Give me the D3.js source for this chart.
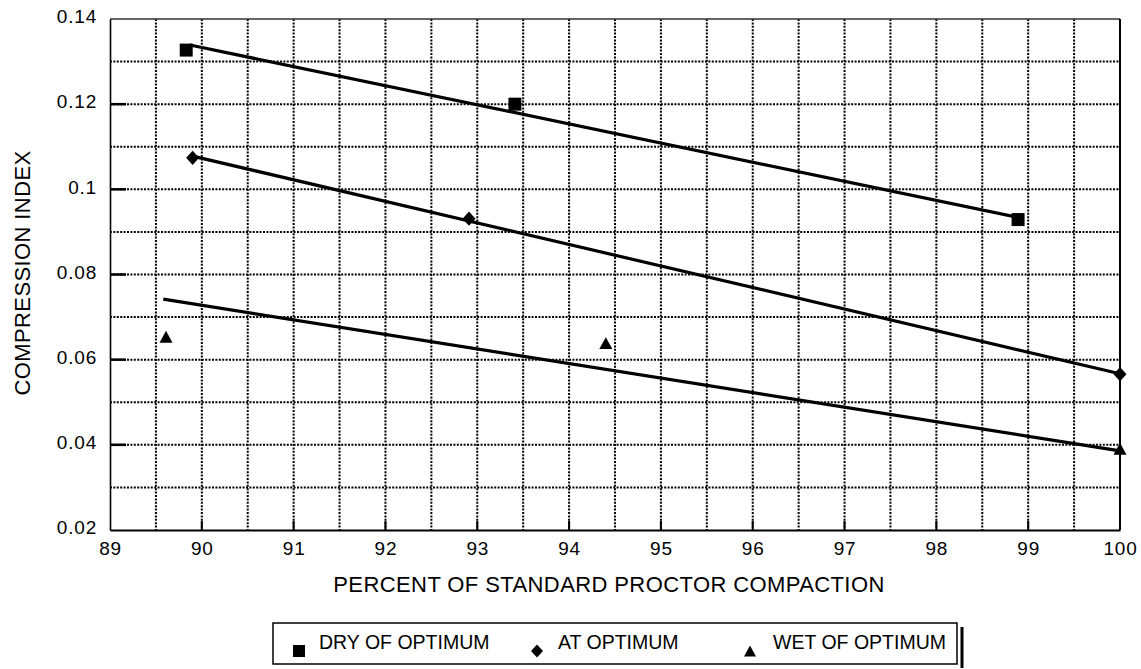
<!DOCTYPE html>
<html>
<head>
<meta charset="utf-8">
<script src="https://cdn.jsdelivr.net/npm/d3@7/dist/d3.min.js"></script>
<style>
  html, body { margin: 0; padding: 0; background: #fff; }
  svg { display: block; font-family: "Liberation Sans", Arial, Helvetica, sans-serif; }
</style>
</head>
<body>
<svg id="chart" width="1141" height="669"></svg>
<script>
// ---- data ----
const xTicks = [89, 90, 91, 92, 93, 94, 95, 96, 97, 98, 99, 100];
const yTicks = [0.02, 0.04, 0.06, 0.08, 0.10, 0.12, 0.14];
const yTickLabels = ["0.02", "0.04", "0.06", "0.08", "0.1", "0.12", "0.14"];
const xGrid = [89.5, 90, 90.5, 91, 91.5, 92, 92.5, 93, 93.5, 94, 94.5, 95, 95.5, 96, 96.5, 97, 97.5, 98, 98.5, 99, 99.5];
const yGrid = [0.03, 0.04, 0.05, 0.06, 0.07, 0.08, 0.09, 0.10, 0.11, 0.12, 0.13];

const seriesNames = ["DRY OF OPTIMUM", "AT OPTIMUM", "WET OF OPTIMUM"];
const seriesShapes = ["square", "diamond", "triangle"];

const dryX = [89.83, 93.41, 98.89];
const dryY = [0.1327, 0.1200, 0.0929];
const atX  = [89.90, 92.91, 100.0];
const atY  = [0.1074, 0.0931, 0.0566];
const wetX = [89.61, 94.40, 100.0];
const wetY = [0.0651, 0.0636, 0.0388];

// trend lines (start / end)
const dryFitX = [89.87, 98.89];
const dryFitY = [0.1339, 0.0934];
const atFitX  = [89.90, 100.0];
const atFitY  = [0.1078, 0.0567];
const wetFitX = [89.58, 100.0];
const wetFitY = [0.0742, 0.0386];

const xTitle = "PERCENT OF STANDARD PROCTOR COMPACTION";
const yTitle = "COMPRESSION INDEX";

// ---- layout ----
const svg = d3.select("#chart");
const L = 110, R = 1120, T = 19, B = 530;
const x = d3.scaleLinear().domain([89, 100]).range([L, R]);
const y = d3.scaleLinear().domain([0.02, 0.14]).range([B, T]);

// grid
const g = svg.append("g");
g.selectAll("line.vg").data(xGrid).enter().append("line")
  .attr("x1", d => x(d)).attr("x2", d => x(d)).attr("y1", T).attr("y2", B)
  .attr("stroke", "#000").attr("stroke-width", 2).attr("stroke-dasharray", "2,1.4");
g.selectAll("line.hg").data(yGrid).enter().append("line")
  .attr("x1", L).attr("x2", R).attr("y1", d => y(d)).attr("y2", d => y(d))
  .attr("stroke", "#000").attr("stroke-width", 2).attr("stroke-dasharray", "2,1.4");

// frame
svg.append("line").attr("x1", L).attr("x2", R).attr("y1", T).attr("y2", T).attr("stroke", "#333").attr("stroke-width", 1.3);
svg.append("line").attr("x1", R).attr("x2", R).attr("y1", T).attr("y2", B).attr("stroke", "#000").attr("stroke-width", 2);

const FONT = "'Liberation Sans', Arial, sans-serif";

// axes
const xAxis = d3.axisBottom(x).tickValues(xTicks).tickSize(0).tickPadding(12).tickFormat(d3.format("d"));
const xa = svg.append("g").attr("transform", `translate(0,${B})`).call(xAxis);
xa.select(".domain").attr("stroke-width", 2.2);
xa.selectAll("text").attr("font-size", 19).attr("letter-spacing", "0.8px").attr("fill", "#000")
  .attr("font-family", FONT);
svg.selectAll("line.xt").data(xTicks.slice(1, -1)).enter().append("line")
  .attr("x1", d => x(d)).attr("x2", d => x(d)).attr("y1", B).attr("y2", B - 9)
  .attr("stroke", "#000").attr("stroke-width", 2);

const yAxis = d3.axisLeft(y).tickValues(yTicks).tickSize(0).tickPadding(13)
  .tickFormat((d, i) => yTickLabels[i]);
const ya = svg.append("g").attr("transform", `translate(${L},0)`).call(yAxis);
ya.select(".domain").attr("stroke-width", 1.6);
ya.selectAll("text").attr("font-size", 19).attr("letter-spacing", "0.8px").attr("fill", "#000")
  .attr("font-family", FONT).attr("dy", "0.2em");
svg.selectAll("line.yt").data(yTicks.slice(1, -1)).enter().append("line")
  .attr("x1", L).attr("x2", L + 16).attr("y1", d => y(d)).attr("y2", d => y(d))
  .attr("stroke", "#000").attr("stroke-width", 2.5);

// titles
svg.append("text").attr("x", (L + R) / 2 - 6).attr("y", 592).attr("text-anchor", "middle")
  .attr("font-size", 22).attr("letter-spacing", "0.4px").attr("fill", "#000").text(xTitle);
svg.append("text").attr("transform", `translate(30,273) rotate(-90)`).attr("text-anchor", "middle")
  .attr("font-size", 22).attr("letter-spacing", "0.4px").attr("fill", "#000").text(yTitle);

// trend lines
const fits = [[dryFitX, dryFitY], [atFitX, atFitY], [wetFitX, wetFitY]];
const lineGen = d3.line().x(d => x(d[0])).y(d => y(d[1]));
fits.forEach(([fx, fy]) => {
  svg.append("path").datum(fx.map((v, i) => [v, fy[i]]))
    .attr("d", lineGen).attr("fill", "none").attr("stroke", "#000").attr("stroke-width", 3.2);
});

// marker shapes
function markerPath(shape, s) {
  const p = d3.path();
  if (shape === "square") {
    p.rect(-s / 2, -s / 2, s, s);
  } else if (shape === "diamond") {
    const w = s * 0.5, h = s * 0.55;
    p.moveTo(0, -h); p.lineTo(w, 0); p.lineTo(0, h); p.lineTo(-w, 0); p.closePath();
  } else {
    const w = s * 0.5, h = s * 0.92;
    p.moveTo(0, -h * 0.6); p.lineTo(w, h * 0.4); p.lineTo(-w, h * 0.4); p.closePath();
  }
  return p.toString();
}
const markSize = { square: 13, diamond: 13, triangle: 13 };
const series = [[dryX, dryY], [atX, atY], [wetX, wetY]];
series.forEach(([sx, sy], k) => {
  const shape = seriesShapes[k];
  svg.selectAll(null).data(sx.map((v, i) => [v, sy[i]])).enter().append("path")
    .attr("d", markerPath(shape, markSize[shape]))
    .attr("transform", d => `translate(${x(d[0])},${y(d[1])})`)
    .attr("fill", "#000");
});

// legend
const lg = svg.append("g");
lg.append("rect").attr("x", 273).attr("y", 623).attr("width", 684).attr("height", 41)
  .attr("fill", "#fff").attr("stroke", "#000").attr("stroke-width", 1.5);
lg.append("line").attr("x1", 962).attr("x2", 962).attr("y1", 627).attr("y2", 668)
  .attr("stroke", "#000").attr("stroke-width", 3);
const legX = [299, 537, 750];
const legTX = [319, 558, 773];
seriesNames.forEach((name, k) => {
  const shape = seriesShapes[k];
  lg.append("path").attr("d", markerPath(shape, 12))
    .attr("transform", `translate(${legX[k]},${shape === "triangle" ? 652 : 651})`).attr("fill", "#000");
  lg.append("text").attr("x", legTX[k]).attr("y", 649).attr("font-size", 19.5)
    .attr("fill", "#000").text(name);
});
</script>
</body>
</html>
